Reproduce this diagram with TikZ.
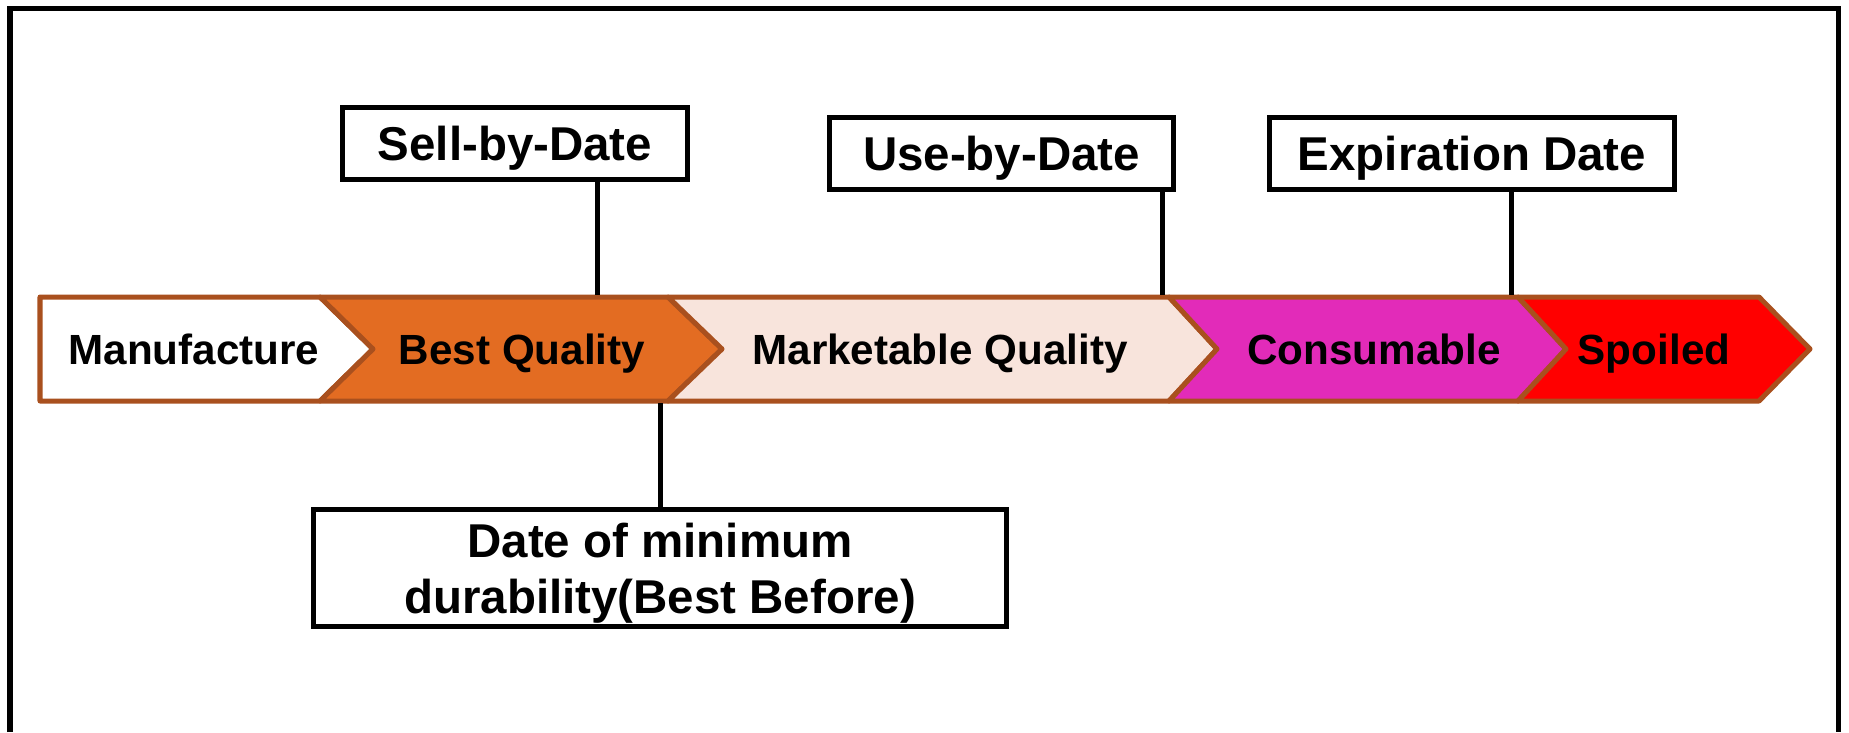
\documentclass[tikz,border=0pt]{standalone}
\usepackage{fontspec}
\setmainfont{Liberation Sans}
\usepackage{xcolor}
\usetikzlibrary{calc,positioning}

\definecolor{stageline}{HTML}{A9501E}
\definecolor{bestq}{HTML}{E36C22}
\definecolor{marketq}{HTML}{F8E4DC}
\definecolor{consum}{HTML}{E22BB9}
\definecolor{spoil}{HTML}{FF0000}

\tikzset{
  stage/.style={draw=stageline, line width=0.05cm, line join=round},
  stagetext/.style={anchor=base, inner sep=0pt, font=\fontsize{12}{14}\selectfont\bfseries},
  datebox/.style={draw, line width=0.05cm, inner sep=0pt, minimum height=0.72cm,
    text depth=0pt, align=center, font=\fontsize{13.5}{16}\selectfont\bfseries},
  tick/.style={line width=0.05cm}
}

\begin{document}
\begin{tikzpicture}[x=0.01cm, y=-0.01cm]
                \useasboundingbox (0,0) rectangle (1849,732);
                
                % Drawing frame (open at the bottom)
                \draw [line width=0.05cm] (10,732) -- (10,8) -- (1838,8) -- (1838,732);%
                
                % Drawing stage Manufacture
                \draw [stage, fill=white] (40,297) -- (320,297) -- (373,349) -- (320,401) -- (40,401) -- cycle;%
                
                % Drawing stage Best Quality
                \draw [stage, fill=bestq] (320,297) -- (668,297) -- (722,349) -- (668,401) -- (320,401) -- (373,349) -- cycle;%
                
                % Drawing stage Marketable Quality
                \draw [stage, fill=marketq] (668,297) -- (1169,297) -- (1217,349) -- (1169,401) -- (668,401) -- (722,349) -- cycle;%
                
                % Drawing stage Consumable
                \draw [stage, fill=consum] (1169,297) -- (1518,297) -- (1566,349) -- (1518,401) -- (1169,401) -- (1217,349) -- cycle;%
                
                % Drawing stage Spoiled
                \draw [stage, fill=spoil] (1518,297) -- (1759,297) -- (1810,349) -- (1759,401) -- (1518,401) -- (1566,349) -- cycle;%
                
                % Marking stage texts
                \node [stagetext] (manu) at (194,364) {Manufacture};%
                \node [stagetext] (best) at (522,364) {Best Quality};%
                \node [stagetext] (market) at (940,364) {Marketable Quality};%
                \node [stagetext] (consume) at (1374,364) {Consumable};%
                \node [stagetext] (spoiled) at (1654,364) {Spoiled};%
                
                % Marking dates
                \node [datebox, minimum width=3.45cm] (sell) at (515,143.5) {Sell-by-Date};%
                \node [datebox, minimum width=3.44cm] (use) at (1001.5,153.5) {Use-by-Date};%
                \node [datebox, minimum width=4.05cm] (expire) at (1472,153.5) {Expiration Date};%
                \node [datebox, minimum width=6.93cm, minimum height=1.17cm] (durable) at (660,568)
                  {Date of minimum\\durability(Best Before)};%
                
                % Points on the band
                \coordinate (sellpt) at (597,295);
                \coordinate (usept) at (1162,295);
                \coordinate (expirept) at (1511,295);
                \coordinate (durablept) at (660,403);
                
                % Drawing ticks
                \draw [tick] (sell.south -| sellpt) -- (sellpt);%
                \draw [tick] (use.south -| usept) -- (usept);%
                \draw [tick] (expire.south -| expirept) -- (expirept);%
                \draw [tick] (durablept) -- (durable.north -| durablept);%
            \end{tikzpicture}
\end{document}
